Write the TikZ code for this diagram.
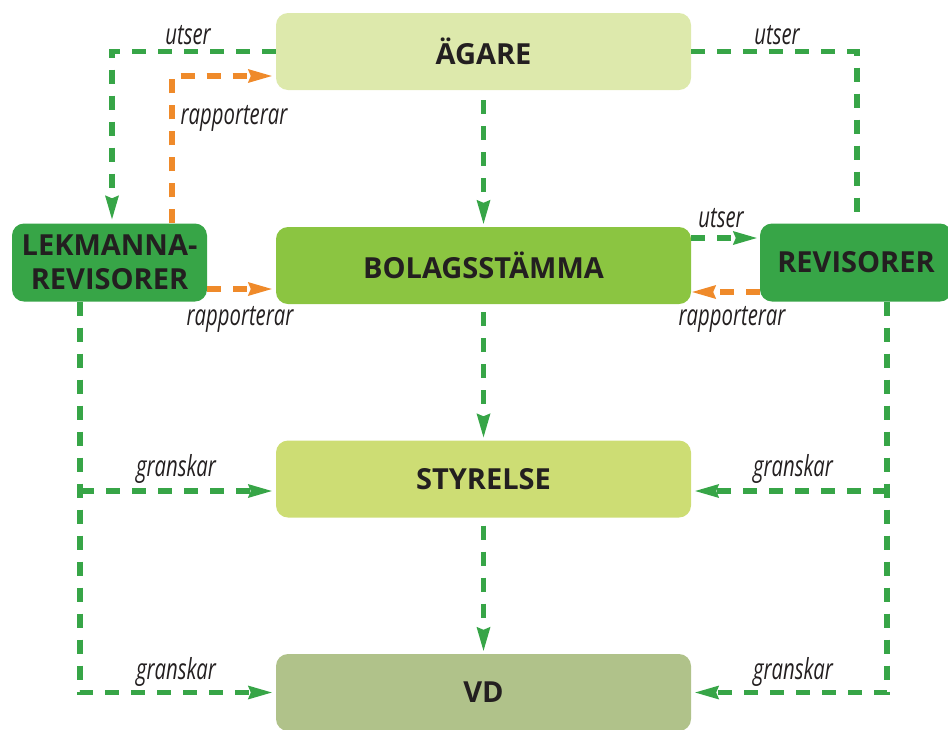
\documentclass[tikz,border=0pt]{standalone}
\usepackage{fontspec}
\setmainfont{Open Sans}
\newfontfamily\lblfamily{Open Sans}[FakeStretch=0.7]
\usetikzlibrary{arrows.meta}
\definecolor{cAgare}{HTML}{DDE9AC}
\definecolor{cBolag}{HTML}{8BC541}
\definecolor{cStyr}{HTML}{CDDD74}
\definecolor{cVD}{HTML}{B0C28A}
\definecolor{cDark}{HTML}{37A547}
\definecolor{gLine}{HTML}{37A547}
\definecolor{oLine}{HTML}{EF8A2A}
\definecolor{txt}{HTML}{231F20}
\tikzset{
  box/.style={rounded corners=12pt, minimum width=415pt, minimum height=77pt, inner sep=0pt,
    text=txt, font=\bfseries\fontsize{29}{35}\selectfont},
  darkbox/.style={box, fill=cDark, minimum height=78pt},
  lbl/.style={text=txt, inner sep=0pt, font=\lblfamily\itshape\fontsize{29}{32}\selectfont},
  link/.style={line width=5.5pt, dash pattern=on 14pt off 12pt},
  gline/.style={link, draw=gLine},
  oline/.style={link, draw=oLine},
  arr/.style={-{Stealth[length=24pt,width=14pt,inset=3pt,line width=0pt]}},
}
\begin{document}
\begin{tikzpicture}[x=1pt,y=-1pt]
\useasboundingbox (0,0) rectangle (948,729);
% boxes
\node[box, fill=cAgare] (agare) at (483.5,51.5) {ÄGARE};
\node[box, fill=cBolag] (bolag) at (483.5,265.5) {BOLAGSSTÄMMA};
\node[box, fill=cStyr] (styr) at (483.5,479) {STYRELSE};
\node[box, fill=cVD] (vd) at (483.5,692.5) {VD};
\node[darkbox, minimum width=195pt, align=center] (lek) at (109.5,262.5) {LEKMANNA-\\[-1pt]REVISORER};
\node[darkbox, minimum width=192pt] (rev) at (856,262.5) {REVISORER};
% coordinates
\coordinate (lx) at ([xshift=-29.5pt]lek.south);
\coordinate (rx) at ([xshift=31pt]rev.south);
\coordinate (sl) at ([yshift=-12pt]styr.west);
\coordinate (sr) at ([yshift=-12pt]styr.east);
% top connections
\draw[gline, arr, shorten >=4pt] (agare.west) -| ([xshift=2.5pt]lek.north);
\draw[oline, arr, shorten >=4pt] ([xshift=62.5pt]lek.north) |- ([yshift=-24.5pt]agare.west);
\draw[gline] (agare.east) -| ([xshift=1pt]rev.north);
% vertical chain
\draw[gline, arr, shorten <=10pt, shorten >=3pt] (agare.south) -- (bolag.north);
\draw[gline, arr, shorten <=8pt, shorten >=3pt] (bolag.south) -- (styr.north);
\draw[gline, arr, shorten <=8pt, shorten >=3pt] (styr.south) -- (vd.north);
% middle row
\draw[gline, arr, shorten >=3pt] ([yshift=27.5pt]bolag.east) -- ([yshift=24.5pt]rev.west);
\draw[oline, arr, shorten >=1pt] ([yshift=-29.5pt]rev.west) -- ([yshift=-26.5pt]bolag.east);
\draw[oline, arr, shorten >=4pt] ([yshift=-26.5pt]lek.east) -- ([yshift=-23.5pt]bolag.west);
% granskar left
\draw[gline, arr, shorten >=4pt] (lx) |- (vd.west);
\draw[gline, arr, shorten >=4pt] (lx |- sl) -- (sl);
% granskar right
\draw[gline, arr, shorten >=4pt] (rx) |- (vd.east);
\draw[gline, arr, shorten >=4pt] (rx |- sr) -- (sr);
% labels
\node[lbl] (l1) at (188,35) {utser};
\node[lbl] (l2) at (234,118) {rapporterar};
\node[lbl] (l3) at (777,35) {utser};
\node[lbl] (l4) at (721,218) {utser};
\node[lbl] (l5) at (240,319) {rapporterar};
\node[lbl] (l6) at (732,319) {rapporterar};
\node[lbl] (l7) at (176,469) {granskar};
\node[lbl] (l8) at (176,672) {granskar};
\node[lbl] (l9) at (793,469) {granskar};
\node[lbl] (l10) at (793,672) {granskar};
\end{tikzpicture}
\end{document}
